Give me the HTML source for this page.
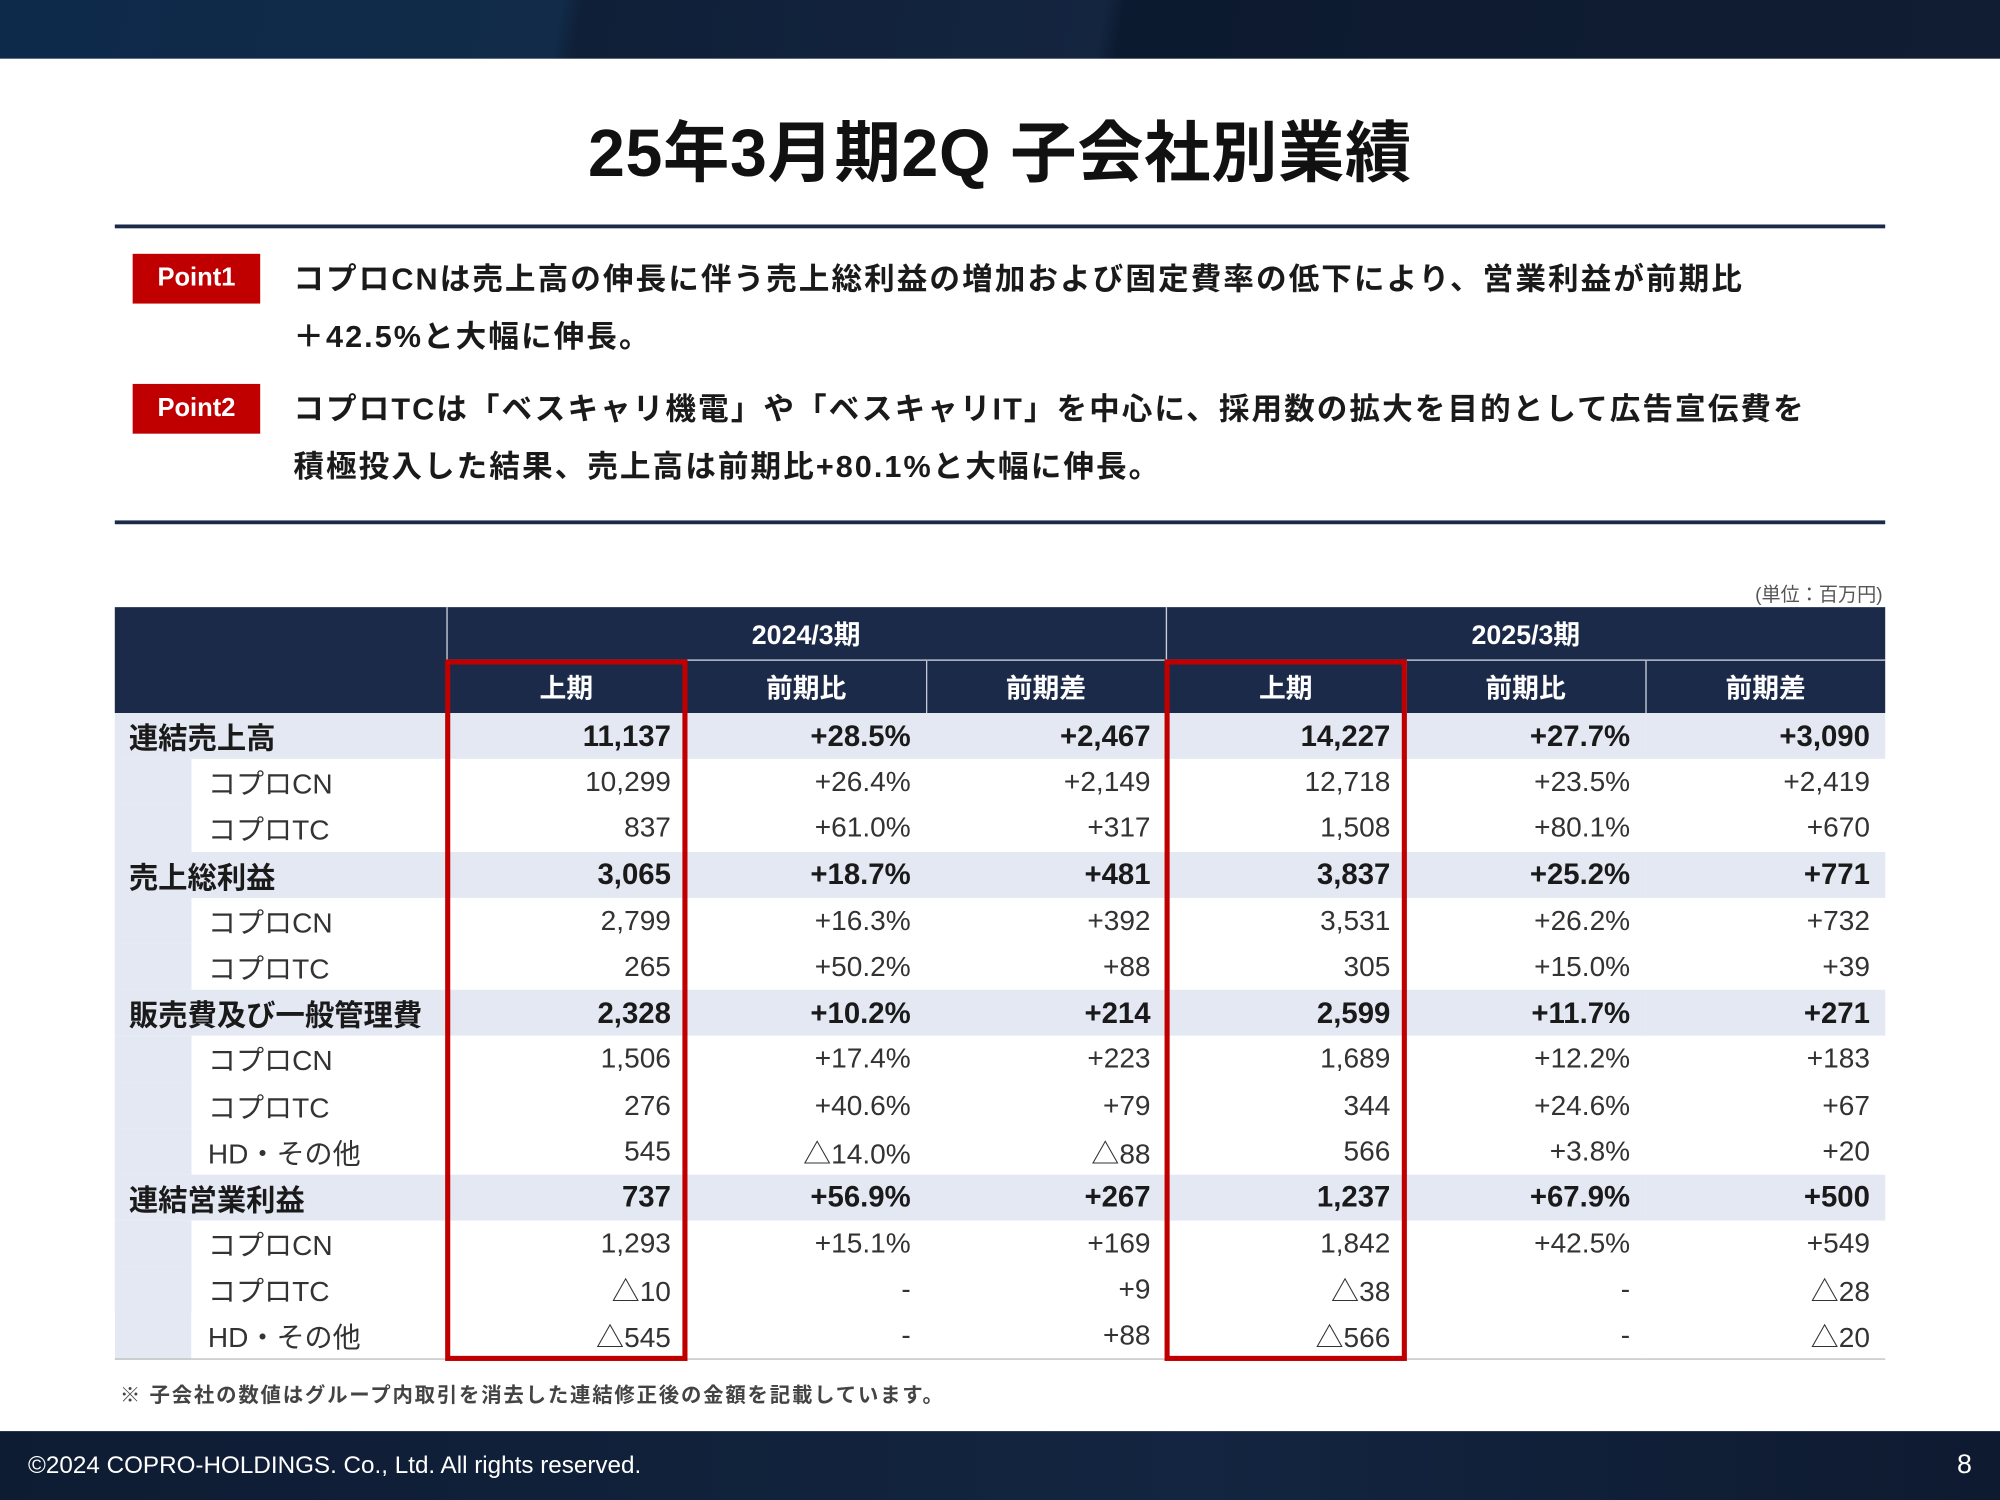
<!DOCTYPE html>
<html><head><meta charset="utf-8">
<style>
*{margin:0;padding:0;box-sizing:border-box}
html,body{width:2000px;height:1500px;overflow:hidden;background:#fff}
#w{width:1568px;height:1176px;position:relative;transform:scale(1.27551);transform-origin:0 0;font-family:"Liberation Sans","Noto Sans CJK JP",sans-serif;color:#1a1a1a}
.a{position:absolute}
.top{left:0;top:0;width:1568px;height:46px;background:linear-gradient(100deg,#0e2a4a 0%,#112b48 28%,#0f1f38 29%,#142540 55%,#0c1a30 56%,#111d33 100%)}
.foot{left:0;top:1122px;width:1568px;height:54px;background:linear-gradient(90deg,#0e1c33,#132540 60%,#0e1a30)}
.title{left:0;top:78px;width:1568px;text-align:center;font-size:52px;font-weight:bold;color:#111;letter-spacing:0.5px}
.hl{left:90px;width:1388px;height:3px;background:#1c2a4a}
.pt{left:104px;width:100px;height:39px;background:#c00000;color:#fff;font-weight:bold;font-size:20px;line-height:39px;text-align:center}
.tx{left:230px;font-size:24px;font-weight:bold;line-height:45px;color:#1a1a1a;letter-spacing:1.6px}
table{position:absolute;left:90px;top:476px;border-collapse:collapse;width:1388px;table-layout:fixed}
td{height:36.2px;padding:0 12px;text-align:right;font-size:22px;white-space:nowrap}
th{background:#1c2a4a;color:#fff;font-size:21px;font-weight:bold;height:41.5px;border-left:1px solid #c8cfdc}
tr.h2 th{border-top:1px solid #c8cfdc}
tr.b td{background:#e3e8f3;font-weight:bold;font-size:23px}
tr.s td{background:#fff;color:#333}
tr.s td.n{background:linear-gradient(90deg,#e3e8f3 60px,#fff 60px);text-align:left;padding-left:73px}
td.n{text-align:left;padding-left:11px}
.red{border:4px solid #c00000;width:190px;top:517px;height:550px}
</style></head><body><div id="w">
<div class="a top"></div>
<div class="a title">25年3月期2Q 子会社別業績</div>
<div class="a hl" style="top:176px"></div>
<div class="a pt" style="top:199px">Point1</div>
<div class="a tx" style="top:197px">コプロCNは売上高の伸長に伴う売上総利益の増加および固定費率の低下により、営業利益が前期比<br>＋42.5%と大幅に伸長。</div>
<div class="a pt" style="top:301px">Point2</div>
<div class="a tx" style="top:299px">コプロTCは「ベスキャリ機電」や「ベスキャリIT」を中心に、採用数の拡大を目的として広告宣伝費を<br>積極投入した結果、売上高は前期比+80.1%と大幅に伸長。</div>
<div class="a hl" style="top:408px"></div>
<div class="a" style="right:92px;top:455px;font-size:15px;color:#555">(単位：百万円)</div>
<table>
<colgroup><col style="width:260px"><col style="width:188px"><col style="width:188px"><col style="width:188px"><col style="width:188px"><col style="width:188px"><col style="width:188px"></colgroup>
<tr><th rowspan="2" style="border-left:none"></th><th colspan="3">2024/3期</th><th colspan="3">2025/3期</th></tr>
<tr class="h2"><th>上期</th><th>前期比</th><th>前期差</th><th>上期</th><th>前期比</th><th>前期差</th></tr>
<tr class="b"><td class="n">連結売上高</td><td>11,137</td><td>+28.5%</td><td>+2,467</td><td>14,227</td><td>+27.7%</td><td>+3,090</td></tr>
<tr class="s"><td class="n">コプロCN</td><td>10,299</td><td>+26.4%</td><td>+2,149</td><td>12,718</td><td>+23.5%</td><td>+2,419</td></tr>
<tr class="s"><td class="n">コプロTC</td><td>837</td><td>+61.0%</td><td>+317</td><td>1,508</td><td>+80.1%</td><td>+670</td></tr>
<tr class="b"><td class="n">売上総利益</td><td>3,065</td><td>+18.7%</td><td>+481</td><td>3,837</td><td>+25.2%</td><td>+771</td></tr>
<tr class="s"><td class="n">コプロCN</td><td>2,799</td><td>+16.3%</td><td>+392</td><td>3,531</td><td>+26.2%</td><td>+732</td></tr>
<tr class="s"><td class="n">コプロTC</td><td>265</td><td>+50.2%</td><td>+88</td><td>305</td><td>+15.0%</td><td>+39</td></tr>
<tr class="b"><td class="n">販売費及び一般管理費</td><td>2,328</td><td>+10.2%</td><td>+214</td><td>2,599</td><td>+11.7%</td><td>+271</td></tr>
<tr class="s"><td class="n">コプロCN</td><td>1,506</td><td>+17.4%</td><td>+223</td><td>1,689</td><td>+12.2%</td><td>+183</td></tr>
<tr class="s"><td class="n">コプロTC</td><td>276</td><td>+40.6%</td><td>+79</td><td>344</td><td>+24.6%</td><td>+67</td></tr>
<tr class="s"><td class="n">HD・その他</td><td>545</td><td>△14.0%</td><td>△88</td><td>566</td><td>+3.8%</td><td>+20</td></tr>
<tr class="b"><td class="n">連結営業利益</td><td>737</td><td>+56.9%</td><td>+267</td><td>1,237</td><td>+67.9%</td><td>+500</td></tr>
<tr class="s"><td class="n">コプロCN</td><td>1,293</td><td>+15.1%</td><td>+169</td><td>1,842</td><td>+42.5%</td><td>+549</td></tr>
<tr class="s"><td class="n">コプロTC</td><td>△10</td><td>-</td><td>+9</td><td>△38</td><td>-</td><td>△28</td></tr>
<tr class="s" style="border-bottom:1px solid #bbb"><td class="n">HD・その他</td><td>△545</td><td>-</td><td>+88</td><td>△566</td><td>-</td><td>△20</td></tr>
</table>
<div class="a red" style="left:349px"></div>
<div class="a red" style="left:913px"></div>
<div class="a" style="left:94px;top:1080px;font-size:16px;font-weight:bold;color:#444;letter-spacing:1.4px">※ 子会社の数値はグループ内取引を消去した連結修正後の金額を記載しています。</div>
<div class="a foot"></div>
<div class="a" style="left:22px;top:1139px;font-size:19px;color:#fff">©2024 COPRO-HOLDINGS. Co., Ltd. All rights reserved.</div>
<div class="a" style="right:22px;top:1137px;font-size:21px;color:#fff">8</div>
</div></body></html>
